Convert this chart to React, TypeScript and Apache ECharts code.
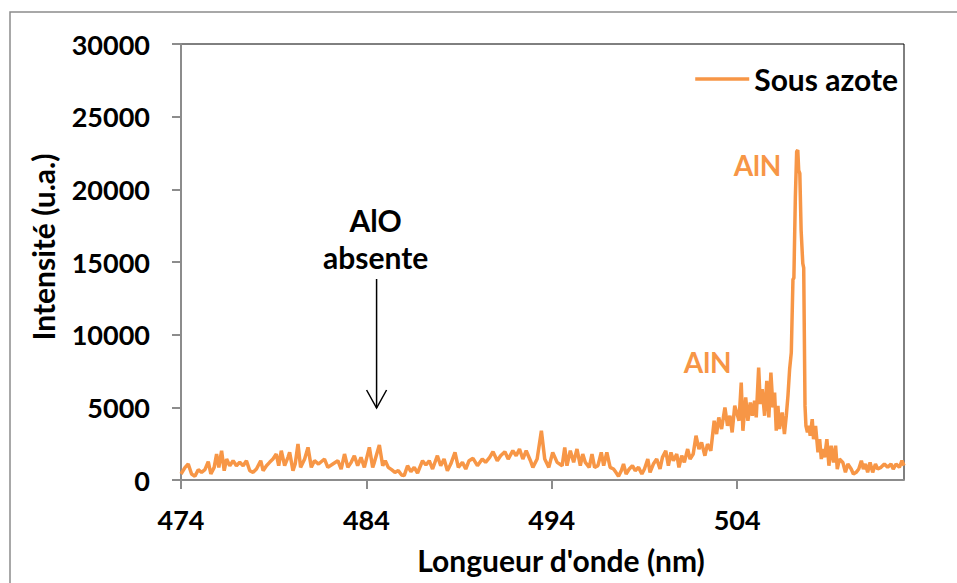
import React, { useEffect, useRef } from "react";
import * as echarts from "echarts";

// Wavelength (nm)
const wavelengths = [
  474.0, 474.22, 474.39, 474.57, 474.75, 474.93, 475.11, 475.29, 475.47, 475.61,
  475.79, 475.92, 476.04, 476.19, 476.33, 476.46, 476.63, 476.81, 476.99, 477.17,
  477.35, 477.53, 477.71, 477.89, 478.07, 478.3, 478.43, 478.61, 478.78, 478.96,
  479.14, 479.27, 479.41, 479.59, 479.77, 479.86, 480.04, 480.16, 480.31, 480.45,
  480.67, 480.85, 481.03, 481.2, 481.42, 481.74, 481.92, 482.19, 482.46, 482.64,
  482.82, 483.0, 483.18, 483.35, 483.53, 483.71, 483.89, 484.16, 484.34,
  484.43, 484.7, 484.88, 485.02, 485.18, 485.36, 485.54, 485.72, 485.9, 486.04,
  486.22, 486.4, 486.58, 486.76, 487.03, 487.21, 487.39, 487.57, 487.83, 488.01,
  488.19, 488.37, 488.55, 488.78, 488.96, 489.18, 489.36, 489.54, 489.75, 489.99,
  490.25, 490.43, 490.65, 490.83, 491.06, 491.24, 491.47, 491.65, 491.9, 492.08,
  492.26, 492.44, 492.62, 492.85, 492.98, 493.21, 493.44, 493.62, 493.84, 494.05,
  494.29,
  494.56, 494.7, 494.82, 495.0, 495.18, 495.36, 495.54, 495.67, 495.81, 496.02,
  496.17, 496.31, 496.49, 496.67, 496.8, 496.97, 497.15, 497.33, 497.46, 497.6,
  497.75, 497.87, 498.01, 498.18, 498.35, 498.5, 498.68, 498.86, 499.0, 499.18,
  499.3, 499.48, 499.66, 499.84, 499.97, 500.15, 500.29, 500.43, 500.56, 500.74,
  500.86, 501.01, 501.15, 501.33, 501.46, 501.63, 501.78, 501.94, 502.08, 502.26,
  502.4, 502.58, 502.76, 502.89, 503.01, 503.16, 503.34, 503.48, 503.61, 503.73,
  503.87,
  504.1, 504.22, 504.31, 504.46, 504.58, 504.71, 504.82, 504.94, 505.03, 505.16,
  505.25, 505.35, 505.48, 505.6, 505.71, 505.82, 505.93, 506.02, 506.11, 506.2,
  506.28, 506.43, 506.55,
  506.65, 506.74, 506.83, 506.92, 507.01, 507.06, 507.14, 507.21, 507.27, 507.32,
  507.38, 507.45, 507.54, 507.59, 507.66, 507.71, 507.79, 507.87, 507.94, 508.05,
  508.12, 508.23, 508.36, 508.45, 508.54, 508.63, 508.72, 508.84, 508.95, 509.07,
  509.2, 509.31, 509.4, 509.52, 509.7, 509.84, 509.97, 510.15, 510.27, 510.42,
  510.56, 510.7, 510.81, 510.92, 511.04, 511.17, 511.31, 511.46, 511.58, 511.76,
  511.94, 512.12, 512.3, 512.42, 512.57, 512.75, 512.89, 513.0,
];

// Intensity (u.a.)
const intensities = [
  412, 870, 1099, 412, 252, 710, 527, 710, 1260, 412,
  870, 1786, 870, 2015, 641, 1443, 985, 1328, 985, 1214,
  985, 1328, 641, 527, 756, 1328, 641, 985, 1214, 1443,
  1786, 985, 2015, 985, 1557, 1900, 641, 1099, 2473, 870,
  1443, 2244, 870, 1328, 1099, 1443, 870, 1099, 1328, 756,
  1786, 870, 1214, 1672, 985, 1557, 870, 2244, 870,
  1214, 2404, 985, 1328, 870, 710, 527, 641, 344, 298,
  985, 573, 870, 481, 1328, 1030, 1328, 756, 1672, 985,
  1443, 641, 1099, 1900, 870, 1214, 756, 1328, 1488, 985,
  1443, 1214, 1557, 1946, 1328, 1672, 1946, 1443, 2015, 1672,
  2130, 1443, 2015, 1328, 870, 1443, 3389, 1443, 870, 1900,
  1214,
  985, 2244, 985, 2015, 1214, 2130, 985, 1786, 1214, 870,
  1786, 870, 985, 1900, 985, 1900, 870, 756, 527, 252,
  641, 1099, 412, 756, 985, 641, 870, 412, 756, 1443,
  527, 1099, 1443, 756, 1557, 2015, 985, 1900, 1328, 1786,
  870, 1672, 1214, 2130, 1443, 1786, 3046, 2130, 2588, 1672,
  2473, 2015, 4076, 3160, 4305, 3504, 4992, 3733, 4420, 3275,
  5107,
  4076, 6710, 3389, 5679, 4076, 5336, 4420, 5450, 4305, 7740,
  5221, 6252, 4420, 6824, 4305, 7397, 4992, 6023, 3389, 5107,
  3504, 4649, 3160,
  4420, 5794, 7620, 8760, 13800, 13900, 19500, 22600, 22700, 21300,
  21100, 17200, 14900, 14600, 5100, 3730, 3270, 3730, 3040, 4190,
  2810, 3730, 1900, 2810, 1440, 2130, 1560, 2810, 985, 2360,
  1210, 2360, 755, 1440, 1210, 525, 1100, 755, 410, 525,
  755, 1330, 755, 1100, 525, 1210, 525, 1100, 755, 870,
  1100, 870, 1100, 755, 1100, 870, 1330, 985,
];

const xTicks = [474, 484, 494, 504];
const seriesName = "Sous azote";
const xTitle = "Longueur d'onde (nm)";
const yTitle = "Intensité (u.a.)";

const ORANGE = "#F79646";
const AXIS_GRAY = "#8c8c8c";
const FONT = "Lato";

export default function App() {
  const ref = useRef<HTMLDivElement>(null);

  useEffect(() => {
    if (!ref.current) return;
    const chart = echarts.init(ref.current, undefined, { renderer: "svg" });
    const data = wavelengths.map((w, i) => [w, intensities[i]]);

    const labelStyle = { fontFamily: FONT, fontWeight: "bold" as const };

    chart.setOption({
      animation: false,
      backgroundColor: "#ffffff",
      grid: {
        left: 181,
        right: 53,
        top: 44,
        bottom: 103,
        show: true,
        borderColor: "#000000",
        borderWidth: 1,
        backgroundColor: "transparent",
      },
      legend: {
        right: 59,
        top: 64,
        padding: 0,
        itemWidth: 54,
        itemHeight: 3.5,
        icon: "rect",
        data: [seriesName],
        textStyle: { ...labelStyle, fontSize: 30, color: "#000" },
      },
      xAxis: {
        type: "value",
        min: 474,
        max: 513,
        interval: 10,
        splitLine: { show: false },
        axisLine: { lineStyle: { color: AXIS_GRAY, width: 2 } },
        axisTick: {
          show: true,
          length: 9,
          customValues: xTicks,
          lineStyle: { color: AXIS_GRAY, width: 2 },
        },
        axisLabel: {
          ...labelStyle,
          fontSize: 27,
          color: "#000",
          margin: 26,
          customValues: xTicks,
          formatter: (v: number) => String(v),
        },
      },
      yAxis: {
        type: "value",
        min: 0,
        max: 30000,
        interval: 5000,
        splitLine: { show: false },
        axisLine: { show: true, lineStyle: { color: AXIS_GRAY, width: 2 } },
        axisTick: { show: true, length: 9, lineStyle: { color: AXIS_GRAY, width: 2 } },
        axisLabel: {
          ...labelStyle,
          fontSize: 27,
          color: "#000",
          margin: 31,
          formatter: (v: number) => String(v),
        },
      },
      series: [
        {
          name: seriesName,
          type: "line",
          data,
          symbol: "none",
          showSymbol: false,
          lineStyle: { color: ORANGE, width: 3.5 },
          itemStyle: { color: ORANGE },
          markPoint: {
            symbol: "rect",
            symbolSize: 1,
            itemStyle: { color: "rgba(0,0,0,0)" },
            data: [
              {
                coord: [505.1, 21675],
                label: {
                  show: true,
                  formatter: "AlN",
                  color: ORANGE,
                  fontSize: 28,
                  ...labelStyle,
                },
              },
              {
                coord: [502.41, 8140],
                label: {
                  show: true,
                  formatter: "AlN",
                  color: ORANGE,
                  fontSize: 28,
                  ...labelStyle,
                },
              },
              {
                coord: [484.5, 16650],
                label: {
                  show: true,
                  formatter: "AlO\nabsente",
                  color: "#000",
                  fontSize: 30,
                  lineHeight: 37,
                  ...labelStyle,
                },
              },
            ],
          },
        },
      ],
    });

    const top = chart.convertToPixel({ gridIndex: 0 }, [484.55, 13830]) as number[];
    const tip = chart.convertToPixel({ gridIndex: 0 }, [484.55, 4954]) as number[];

    chart.setOption({
      graphic: [
        {
          type: "rect",
          silent: true,
          shape: { x: 10, y: 12, width: 960, height: 600 },
          style: { fill: "none", stroke: AXIS_GRAY, lineWidth: 1.5 },
        },
        {
          type: "text",
          x: 561,
          y: 560,
          style: {
            text: xTitle,
            fontSize: 30,
            fontWeight: "bold",
            fontFamily: FONT,
            fill: "#000",
            align: "center",
            verticalAlign: "middle",
          },
        },
        {
          type: "text",
          x: 43,
          y: 247,
          rotation: Math.PI / 2,
          style: {
            text: yTitle,
            fontSize: 30,
            fontWeight: "bold",
            fontFamily: FONT,
            fill: "#000",
            align: "center",
            verticalAlign: "middle",
          },
        },
        {
          type: "line",
          shape: { x1: top[0], y1: top[1], x2: tip[0], y2: tip[1] },
          style: { stroke: "#000", lineWidth: 1.5 },
        },
        {
          type: "polyline",
          shape: {
            points: [
              [tip[0] - 10, tip[1] - 18],
              [tip[0], tip[1]],
              [tip[0] + 10, tip[1] - 18],
            ],
          },
          style: { stroke: "#000", lineWidth: 1.5, fill: "none" },
        },
      ],
    });

    return () => chart.dispose();
  }, []);

  return (
    <div
      ref={ref}
      style={{ position: "absolute", left: 0, top: 0, width: 957, height: 583 }}
    />
  );
}
